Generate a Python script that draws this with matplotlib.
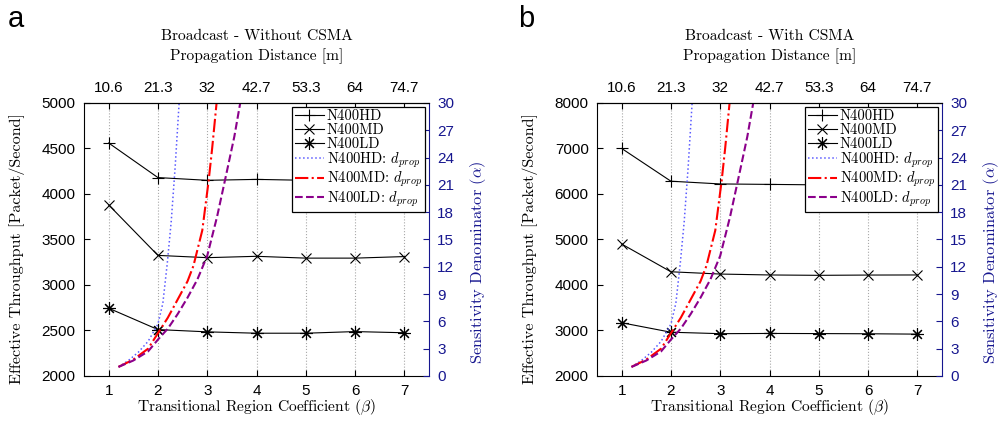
import matplotlib
matplotlib.use("Agg")
import matplotlib.pyplot as plt

plt.rcParams['mathtext.fontset'] = 'cm'
plt.rcParams['axes.unicode_minus'] = False

# x axis: transitional region coefficient, top axis: propagation distance
beta = [1, 2, 3, 4, 5, 6, 7]
dist_labels = ["10.6", "21.3", "32", "42.7", "53.3", "64", "74.7"]

# panel a: broadcast without CSMA (packet/second)
a_hd = [4560, 4180, 4150, 4160, 4150, 4140, 4150]
a_md = [3880, 3325, 3300, 3315, 3295, 3295, 3312]
a_ld = [2745, 2510, 2485, 2470, 2470, 2488, 2475]

# panel b: broadcast with CSMA (packet/second)
b_hd = [7000, 6280, 6220, 6210, 6200, 6195, 6200]
b_md = [4900, 4290, 4240, 4220, 4212, 4218, 4220]
b_ld = [3170, 2962, 2930, 2935, 2932, 2928, 2920]

# d_prop curves (beta, alpha)
hd_prop_beta = [1.2, 1.4, 1.6, 1.8, 2.0, 2.1, 2.19, 2.27, 2.35, 2.43]
hd_prop_alpha = [1.0, 1.7, 2.6, 3.8, 5.7, 8.0, 12.4, 17.0, 23.0, 30.0]
md_prop_beta = [1.2, 1.5, 1.8, 2.0, 2.2, 2.4, 2.6, 2.72, 2.9, 3.03, 3.1, 3.19]
md_prop_alpha = [1.0, 1.8, 3.0, 4.7, 6.4, 8.4, 10.4, 12.1, 16.0, 21.5, 25.0, 30.0]
ld_prop_beta = [1.2, 1.5, 1.8, 2.0, 2.2, 2.4, 2.6, 2.8, 3.0, 3.2, 3.4, 3.55, 3.67]
ld_prop_alpha = [1.0, 1.7, 2.7, 4.0, 5.2, 6.8, 8.6, 10.6, 13.2, 17.5, 22.5, 26.3, 30.0]

BLUE = '#16168f'
SERIF = 'cmr10'
SANS = 'Liberation Sans'


def draw(ax, hd, md, ld, ylim, ystep, title, fx):
    ax.plot(beta, hd, '-', color='k', marker='+', ms=9, mew=0.8, lw=0.8, label='N400HD')
    ax.plot(beta, md, '-', color='k', marker='x', ms=7, mew=0.8, lw=0.8, label='N400MD')
    ax.plot(beta, ld, '-', color='k', marker=(8, 2, 0), ms=9, mew=0.8, lw=0.8, label='N400LD')
    ax.set_xlim(0.5, 7.5)
    ax.set_ylim(*ylim)
    ax.set_xticks(beta)
    ax.set_yticks(range(ylim[0], ylim[1] + 1, ystep))
    ax.grid(axis='x', ls=':', color='#a8a8a8', lw=0.8)
    ax.tick_params(direction='in', length=4, labelsize=11, pad=6)
    for t in ax.get_xticklabels() + ax.get_yticklabels():
        t.set_family(SANS)
    ax.spines['right'].set_visible(False)
    ax.set_xlabel(r'Transitional Region Coefficient ($\beta$)', family=SERIF, fontsize=11.2, labelpad=-1)
    ax.set_ylabel('Effective Throughput [Packet/Second]', family=SERIF, fontsize=11.6)
    ax.yaxis.set_label_coords(-0.172, 0.465)

    axr = ax.twinx()
    axr.plot(hd_prop_beta, hd_prop_alpha, ':', color='#5a5aff', lw=1.1, label='N400HD: $d_{prop}$')
    axr.plot(md_prop_beta, md_prop_alpha, '-.', color='#ff0000', lw=1.5, label='N400MD: $d_{prop}$')
    axr.plot(ld_prop_beta, ld_prop_alpha, '--', color='#8b008b', lw=1.5, label='N400LD: $d_{prop}$')
    axr.set_ylim(0, 30)
    axr.set_yticks(range(0, 31, 3))
    axr.tick_params(direction='in', length=4, labelsize=11, colors=BLUE, pad=6)
    for t in axr.get_yticklabels():
        t.set_family(SANS)
    for s in ['left', 'top', 'bottom']:
        axr.spines[s].set_visible(False)
    axr.spines['right'].set_color(BLUE)
    axr.set_ylabel(r'Sensitivity Denominator ($\alpha$)', family=SERIF, fontsize=11.8, color=BLUE)
    axr.yaxis.set_label_coords(1.112, 0.415)

    axt = ax.twiny()
    axt.set_xlim(0.5, 7.5)
    axt.set_xticks(beta)
    axt.set_xticklabels(dist_labels)
    axt.tick_params(direction='in', length=4, labelsize=11, pad=6)
    for t in axt.get_xticklabels():
        t.set_family(SANS)
    for s in ['left', 'right', 'bottom']:
        axt.spines[s].set_visible(False)

    h1, l1 = ax.get_legend_handles_labels()
    h2, l2 = axr.get_legend_handles_labels()
    leg = axt.legend(h1 + h2, l1 + l2, loc='upper right', prop={'family': SERIF, 'size': 10.5},
                     fancybox=False, framealpha=1, edgecolor='k', borderaxespad=0.25,
                     handlelength=2.0, labelspacing=0.0, borderpad=0.2, handletextpad=0.2)
    leg.get_frame().set_linewidth(0.9)

    fig = ax.figure
    fig.text(fx, 0.916, title, family=SERIF, fontsize=11.2, ha='center', va='center')
    fig.text(fx, 0.869, 'Propagation Distance [m]', family=SERIF, fontsize=11.2, ha='center', va='center')
    return axr, axt


fig = plt.figure(figsize=(10, 4.28), dpi=100)
ax_a = fig.add_axes([0.084, 0.1215, 0.345, 0.638])
ax_b = fig.add_axes([0.597, 0.1215, 0.345, 0.638])

draw(ax_a, a_hd, a_md, a_ld, (2000, 5000), 500, 'Broadcast - Without CSMA', 0.2565)
draw(ax_b, b_hd, b_md, b_ld, (2000, 8000), 1000, 'Broadcast - With CSMA', 0.7695)

fig.text(0.008, 0.937, 'a', family=SANS, fontsize=21, va='baseline')
fig.text(0.518, 0.937, 'b', family=SANS, fontsize=21, va='baseline')

fig.savefig('out.png', dpi=100)
